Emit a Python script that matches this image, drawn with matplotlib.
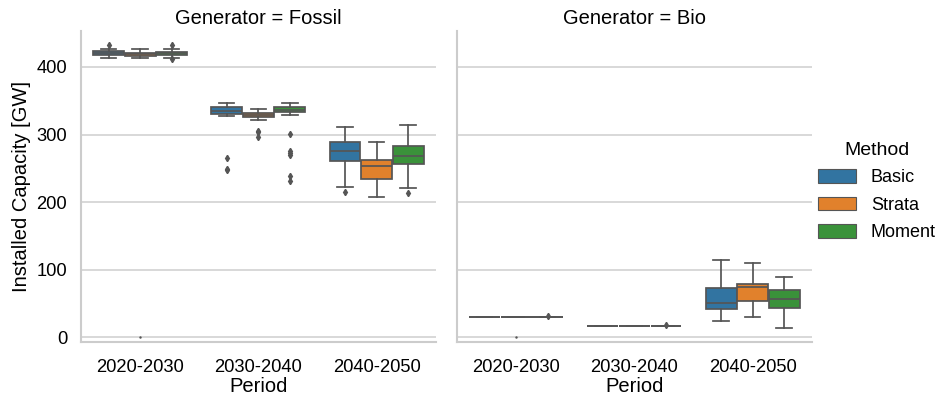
import numpy as np
import matplotlib
matplotlib.use("Agg")
import matplotlib.pyplot as plt
from matplotlib.patches import Patch

plt.rcParams['font.family'] = ['Liberation Sans', 'DejaVu Sans']

periods = ['2020-2030', '2030-2040', '2040-2050']
methods = ['Basic', 'Strata', 'Moment']
generators = ['Fossil', 'Bio']
colors = ['#3274a1', '#e1812c', '#3a923a']

# box stats per generator -> [period][method] = (whislo, q1, med, q3, whishi)
fossil_stats = [
    [(412.9, 417.3, 420.3, 423.2, 427.2), (413.3, 416.3, 418.8, 421.3, 426.6), (413.9, 417.7, 420.3, 422.8, 427.2)],
    [(327.6, 330.1, 335.0, 340.0, 346.8), (320.8, 325.6, 329.0, 332.0, 337.9), (328.6, 333.0, 336.0, 340.4, 345.9)],
    [(222.6, 260.2, 275.4, 288.3, 310.9), (207.4, 233.6, 252.8, 261.6, 288.7), (220.7, 256.6, 267.6, 282.3, 313.4)],
]
fossil_fliers = [
    [[432.1], [], [432.1, 411.4]],
    [[265.5, 248.8, 247.0], [305.4, 303.0, 295.6], [301.0, 275.4, 272.0, 269.5, 238.5, 231.1]],
    [[214.3], [], [213.3]],
]
bio_stats = [
    [(30.5, 30.5, 30.5, 30.5, 30.5), (30.5, 30.5, 30.5, 30.5, 30.5), (30.4, 30.5, 30.5, 30.6, 30.6)],
    [(17.1, 17.1, 17.1, 17.1, 17.1), (17.1, 17.1, 17.1, 17.1, 17.1), (17.0, 17.1, 17.1, 17.2, 17.2)],
    [(23.6, 41.8, 50.9, 72.4, 114.7), (30.0, 54.1, 73.9, 78.8, 110.0), (13.3, 42.9, 56.6, 69.5, 89.6)],
]
bio_fliers = [
    [[], [], [31.5]],
    [[], [], [18.0]],
    [[], [], []],
]
# stray zero readings (period index, value)
fossil_zero = [(0, 0.0)]
bio_zero = [(0, 0.0)]

panels = {
    'Fossil': (fossil_stats, fossil_fliers, fossil_zero),
    'Bio': (bio_stats, bio_fliers, bio_zero),
}

gray = '#555555'
fig = plt.figure(figsize=(9.41, 3.99), dpi=100)
ax1 = fig.add_axes([0.086, 0.143, 0.377, 0.779])
ax2 = fig.add_axes([0.4857, 0.143, 0.377, 0.779], sharey=ax1)

hue_w = 0.8 / len(methods)
for ax, gen in zip([ax1, ax2], generators):
    stats, fliers, zeros = panels[gen]
    for i in range(len(periods)):
        for j in range(len(methods)):
            lo, q1, med, q3, hi = stats[i][j]
            st = dict(whislo=lo, q1=q1, med=med, q3=q3, whishi=hi, fliers=fliers[i][j])
            pos = i + (j - 1) * hue_w
            ax.bxp([st], positions=[pos], widths=hue_w * 0.98, patch_artist=True,
                   showfliers=True,
                   boxprops=dict(facecolor=colors[j], edgecolor=gray, linewidth=1.25),
                   medianprops=dict(color=gray, linewidth=1.25),
                   whiskerprops=dict(color=gray, linewidth=1.25),
                   capprops=dict(color=gray, linewidth=1.25),
                   flierprops=dict(marker='d', markersize=3.2, markerfacecolor=gray,
                                   markeredgecolor=gray))
    for pi, v in zeros:
        ax.plot(pi, v, marker='.', markersize=1.5, color=gray, zorder=3)

    ax.set_xlim(-0.5, 2.5)
    ax.set_xticks(range(len(periods)))
    ax.set_xticklabels(periods, fontsize=13.25)
    ax.set_xlabel('Period', fontsize=14.5, labelpad=1)
    ax.set_title(f'Generator = {gen}', fontsize=14.5, pad=5)
    ax.set_axisbelow(True)
    ax.grid(axis='y', color='#d4d4d4', linewidth=1.25)
    ax.tick_params(axis='x', length=0, labelsize=13.25, pad=12)
    ax.tick_params(axis='y', length=0, labelsize=13.25, pad=10)
    for s in ['top', 'right']:
        ax.spines[s].set_visible(False)
    for s in ['left', 'bottom']:
        ax.spines[s].set_color('#cccccc')
        ax.spines[s].set_linewidth(1.5)

ax1.set_ylim(-7, 453)
ax1.set_yticks([0, 100, 200, 300, 400])
ax1.set_ylabel('Installed Capacity [GW]', fontsize=14.5)
plt.setp(ax2.get_yticklabels(), visible=False)

handles = [Patch(facecolor=c, edgecolor=gray, linewidth=0.8, label=m) for c, m in zip(colors, methods)]
fig.legend(handles=handles, title='Method', loc='center left', bbox_to_anchor=(0.862, 0.52),
           frameon=False, fontsize=13, title_fontsize=14, handlelength=2.1, handleheight=0.8,
           labelspacing=0.58, handletextpad=0.8, borderaxespad=0)

fig.savefig('out.png', dpi=100)
